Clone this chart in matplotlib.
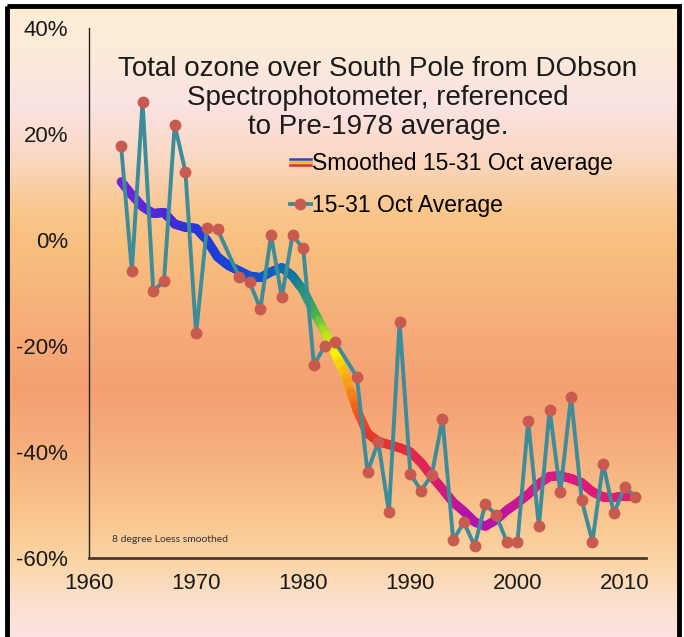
import numpy as np
import matplotlib.pyplot as plt
from matplotlib.collections import LineCollection
from matplotlib.colors import LinearSegmentedColormap, to_rgb
from matplotlib.lines import Line2D
from matplotlib.legend_handler import HandlerBase
from matplotlib.patches import Rectangle

# 15-31 Oct average, % vs pre-1978 (1973 and 1984 missing)
years = [1963, 1964, 1965, 1966, 1967, 1968, 1969, 1970, 1971, 1972,
         1974, 1975, 1976, 1977, 1978, 1979, 1980, 1981, 1982, 1983,
         1985, 1986, 1987, 1988, 1989, 1990, 1991, 1992, 1993, 1994,
         1995, 1996, 1997, 1998, 1999, 2000, 2001, 2002, 2003, 2004,
         2005, 2006, 2007, 2008, 2009, 2010, 2011]
ozone = [17.7, -5.8, 26.1, -9.6, -7.8, 21.7, 12.9, -17.6, 2.3, 2.0,
         -6.9, -8.0, -13.0, 0.9, -10.8, 0.9, -1.6, -23.6, -20.0, -19.3,
         -25.8, -43.8, -38.1, -51.3, -15.4, -44.1, -47.3, -44.3, -33.8, -56.6,
         -53.3, -57.7, -49.8, -51.9, -56.9, -56.9, -34.2, -54.0, -32.0, -47.6,
         -29.6, -49.1, -56.9, -42.2, -51.6, -46.6, -48.4]

# 8 degree loess smoothed curve
smooth_years = list(range(1963, 2012))
smooth = [11.0, 8.5, 6.3, 5.0, 5.2, 3.0, 2.4, 2.2, 0.0, -3.2,
          -4.8, -5.8, -6.8, -7.1, -6.0, -5.2, -6.8, -9.5, -13.5, -17.3,
          -21.5, -26.0, -32.0, -36.5, -38.0, -38.6, -39.2, -40.0, -42.0, -44.6,
          -47.0, -49.5, -51.2, -53.2, -54.0, -52.8, -51.0, -49.6, -48.0, -46.0,
          -44.6, -44.5, -45.0, -45.8, -47.5, -48.5, -48.6, -48.3, -48.3]

xticks = [1960, 1970, 1980, 1990, 2000, 2010]
yticks = [-60, -40, -20, 0, 20, 40]

title = ("Total ozone over South Pole from DObson\n"
         "Spectrophotometer, referenced\n"
         "to Pre-1978 average.")

plt.rcParams['font.family'] = ['Liberation Sans', 'DejaVu Sans']

W, H = 684, 637
fig = plt.figure(figsize=(W / 100, H / 100), dpi=100)

# background gradient + black frame
bg = fig.add_axes([0, 0, 1, 1], zorder=0)
bg.set_xlim(0, W)
bg.set_ylim(H, 0)
bg.axis('off')
stops = [(0, '#fdefd6'), (40, '#fcebd8'), (100, '#fbe3e3'), (150, '#fad8c4'),
         (210, '#f9c68a'), (250, '#f8be7e'), (330, '#f6ab78'), (390, '#f4a072'),
         (450, '#f6b07e'), (510, '#f9c48c'), (560, '#fbd5a6'), (600, '#fce0cc'),
         (637, '#fce3e3')]
rows = np.arange(H)
sy = [s[0] for s in stops]
cols = np.array([to_rgb(s[1]) for s in stops])
grad = np.stack([np.interp(rows, sy, cols[:, i]) for i in range(3)], axis=1)
grad = np.repeat(grad[:, None, :], 2, axis=1)
bg.imshow(grad, aspect='auto', extent=(7, 679, H, 6), interpolation='bilinear')
bg.add_patch(Rectangle((7, 6), 672, H + 20, fill=False, ec='black', lw=3.5))

ax = fig.add_axes([89 / W, 1 - 558 / H, 557 / W, 530 / H], zorder=1)
ax.patch.set_alpha(0)

# smoothed curve, coloured along time
cmap = LinearSegmentedColormap.from_list('ozone', [
    (0.00, '#7a22d6'), (0.06, '#5a26d8'), (0.12, '#3530d6'), (0.20, '#1a40d8'),
    (0.29, '#1058c8'), (0.34, '#107a9e'), (0.38, '#40b050'), (0.40, '#b8e020'),
    (0.42, '#f8f000'), (0.44, '#f8a818'), (0.46, '#f06020'), (0.48, '#e83828'),
    (0.56, '#e82a3a'), (0.62, '#d81e70'), (0.68, '#b012b0'), (0.73, '#b812a8'),
    (0.81, '#d81888'), (1.00, '#e81870')])
sx = np.array(smooth_years, float)
sv = np.array(smooth, float)
segs, cvals = [], []
n = 8
for i in range(len(sx) - 1):
    for k in range(n):
        a, b = k / n, (k + 1) / n
        p0 = (sx[i] + (sx[i + 1] - sx[i]) * a, sv[i] + (sv[i + 1] - sv[i]) * a)
        p1 = (sx[i] + (sx[i + 1] - sx[i]) * b, sv[i] + (sv[i + 1] - sv[i]) * b)
        segs.append([p0, p1])
        cvals.append(((p0[0] + p1[0]) / 2 - sx[0]) / (sx[-1] - sx[0]))
lc = LineCollection(segs, colors=cmap(np.array(cvals)), linewidths=6.5,
                    capstyle='round', joinstyle='round', zorder=2)
ax.add_collection(lc)

teal = '#3d8c9a'
red = '#c85a50'
ax.plot(years, ozone, color=teal, lw=2.8, marker='o', ms=7.5,
        mfc=red, mec=red, zorder=3)

ax.set_xlim(1960, 2012)
ax.set_ylim(-60, 40)
ax.set_xticks(xticks)
ax.set_yticks(yticks)
ax.set_yticklabels([f"{v}%" for v in yticks])
ax.tick_params(length=0, labelsize=16, colors='#1a1a1a')
ax.tick_params(axis='y', pad=15)
ax.tick_params(axis='x', pad=11)
for s in ['top', 'right']:
    ax.spines[s].set_visible(False)
ax.spines['left'].set_linewidth(1.0)
ax.spines['left'].set_color('#222222')
ax.spines['bottom'].set_linewidth(2.0)
ax.spines['bottom'].set_color('#4a3a30')

fig.text(378 / W, 1 - 98 / H, title, ha='center', va='center',
         fontsize=20, linespacing=1.15, color='#1a1a1a')

ax.text(0.042, 0.03, "8 degree Loess smoothed", transform=ax.transAxes,
        fontsize=7.5, family=['Lato', 'DejaVu Sans'], color='#333333')


class StripeHandler(HandlerBase):
    def create_artists(self, legend, orig_handle, xdescent, ydescent,
                       width, height, fontsize, trans):
        arts = []
        for i, c in enumerate(['#3340c0', '#e8b830', '#d83030']):
            y = height / 2 - ydescent + (1 - i) * 2.2
            arts.append(Line2D([-xdescent, width - xdescent], [y, y],
                               color=c, lw=1.8, transform=trans))
        return arts


h_smooth = Line2D([], [])
h_data = Line2D([], [], color=teal, lw=2.8, marker='o', ms=7.5, mfc=red, mec=red)
fig.legend([h_smooth, h_data], ["Smoothed 15-31 Oct average", "15-31 Oct Average"],
           handler_map={h_smooth: StripeHandler()}, loc='upper left',
           bbox_to_anchor=(290 / W, 1 - 152 / H), frameon=False, fontsize=16.5,
           handlelength=0.9, handletextpad=0.05, labelspacing=0.85,
           borderpad=0, borderaxespad=0)

fig.savefig('out.png', dpi=100)
